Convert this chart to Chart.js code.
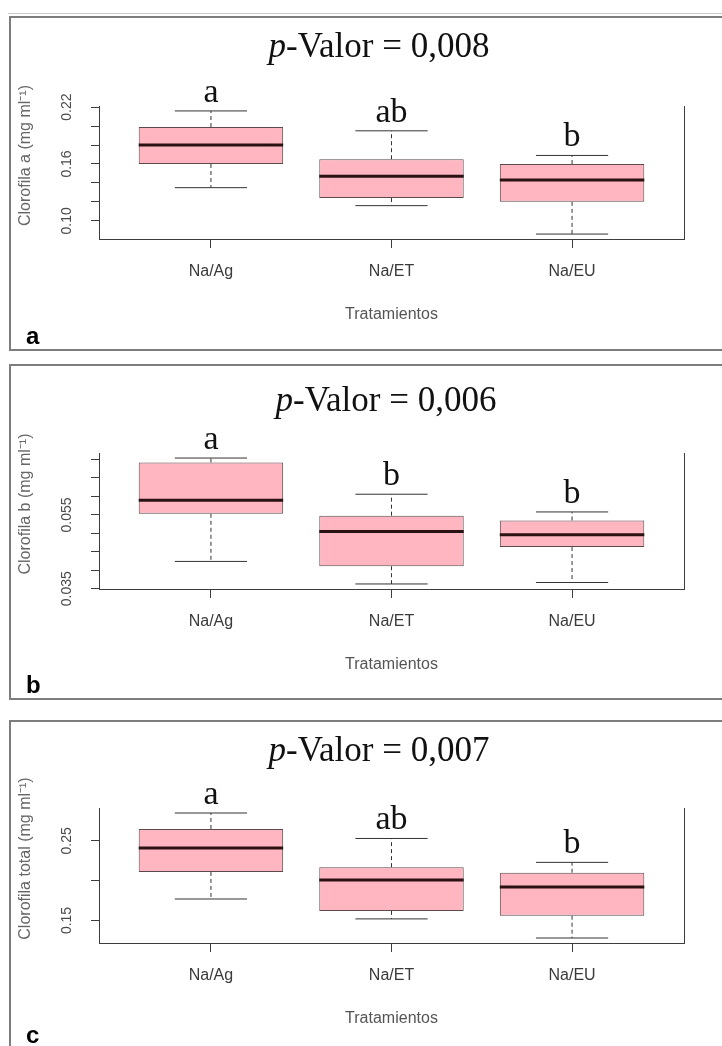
<!DOCTYPE html>
<html>
<head>
<meta charset="utf-8">
<script src="https://cdn.jsdelivr.net/npm/chart.js@4/dist/chart.umd.min.js"></script>
<style>
  body { margin: 0; width: 722px; height: 1046px; background: #fff; position: relative; overflow: hidden; }
  .panel { position: absolute; left: 9px; width: 730px; border: 2px solid #7d7d7d; box-sizing: border-box; }
  canvas { position: absolute; left: 0; }
  .rule { position: absolute; left: 8px; right: 0; top: 13px; height: 1px; background: #c9c9c9; }
</style>
</head>
<body>
<div class="rule"></div>
<div class="panel" style="top:16px;height:335px"></div>
<div class="panel" style="top:364px;height:336px"></div>
<div class="panel" style="top:720px;height:360px"></div>
<canvas id="chartA" width="722" height="334" style="top:16px"></canvas>
<canvas id="chartB" width="722" height="335" style="top:364px"></canvas>
<canvas id="chartC" width="722" height="326" style="top:720px"></canvas>
<script>
const treatments = ["Na/Ag", "Na/ET", "Na/EU"];

// Clorofila a
const chlAMin = [0.135, 0.116, 0.086];
const chlAQ1 = [0.160, 0.124, 0.120];
const chlAMedian = [0.180, 0.147, 0.143];
const chlAQ3 = [0.199, 0.165, 0.160];
const chlAMax = [0.216, 0.195, 0.169];
const chlALetters = ["a", "ab", "b"];
const chlATicks = [0.10, 0.12, 0.14, 0.16, 0.18, 0.20, 0.22];
const chlATickLabels = ["0.10", "0.16", "0.22"];

// Clorofila b
const chlBMin = [0.0424, 0.0363, 0.0367];
const chlBQ1 = [0.0553, 0.0411, 0.0463];
const chlBMedian = [0.0590, 0.0505, 0.0496];
const chlBQ3 = [0.0692, 0.0548, 0.0535];
const chlBMax = [0.0704, 0.0606, 0.0558];
const chlBLetters = ["a", "b", "b"];
const chlBTicks = [0.035, 0.040, 0.045, 0.050, 0.055, 0.060, 0.065, 0.070];
const chlBTickLabels = ["0.035", "0.055"];

// Clorofila total
const chlTMin = [0.177, 0.152, 0.128];
const chlTQ1 = [0.211, 0.162, 0.156];
const chlTMedian = [0.241, 0.201, 0.192];
const chlTQ3 = [0.265, 0.217, 0.210];
const chlTMax = [0.285, 0.253, 0.223];
const chlTLetters = ["a", "ab", "b"];
const chlTTicks = [0.15, 0.20, 0.25];
const chlTTickLabels = ["0.15", "0.25"];

const AXIS = "#3c3c3c";
const TEXT = "#4a4a4a";
const SANS = 16;

function makePanel(p) {
  const canvas = document.getElementById(p.id);
  const H = canvas.height;
  const plotTop = p.plotTop - p.canvasTop;
  const plotBottom = p.plotBottom - p.canvasTop;

  // R style axis range: data range + 4%
  const lo = Math.min(...p.min), hi = Math.max(...p.max);
  const ext = (hi - lo) * 0.04;

  const boxPlugin = {
    id: "box" + p.id,
    afterDatasetsDraw(chart) {
      const { ctx, chartArea } = chart;
      const x = chart.scales.x, y = chart.scales.y;
      ctx.save();
      // right frame line
      ctx.strokeStyle = AXIS;
      ctx.lineWidth = 1;
      ctx.beginPath();
      ctx.moveTo(chartArea.right + 0.5, chartArea.top);
      ctx.lineTo(chartArea.right + 0.5, chartArea.bottom);
      ctx.stroke();

      treatments.forEach((t, i) => {
        const cx = x.getPixelForValue(i + 1);
        const capL = x.getPixelForValue(i + 0.8), capR = x.getPixelForValue(i + 1.2);
        const boxL = x.getPixelForValue(i + 0.6), boxR = x.getPixelForValue(i + 1.4);
        ctx.strokeStyle = "#333";
        ctx.lineWidth = 1;
        ctx.setLineDash([4, 3]);
        ctx.beginPath();
        ctx.moveTo(cx, y.getPixelForValue(p.q3[i]));
        ctx.lineTo(cx, y.getPixelForValue(p.max[i]));
        ctx.moveTo(cx, y.getPixelForValue(p.q1[i]));
        ctx.lineTo(cx, y.getPixelForValue(p.min[i]));
        ctx.stroke();
        ctx.setLineDash([]);
        ctx.beginPath();
        ctx.moveTo(capL, y.getPixelForValue(p.max[i]));
        ctx.lineTo(capR, y.getPixelForValue(p.max[i]));
        ctx.moveTo(capL, y.getPixelForValue(p.min[i]));
        ctx.lineTo(capR, y.getPixelForValue(p.min[i]));
        ctx.stroke();
        // median
        ctx.strokeStyle = "#2a1212";
        ctx.lineWidth = 3;
        ctx.beginPath();
        ctx.moveTo(boxL, y.getPixelForValue(p.median[i]));
        ctx.lineTo(boxR, y.getPixelForValue(p.median[i]));
        ctx.stroke();
        // significance letters
        ctx.fillStyle = "#111";
        ctx.font = '34px "Liberation Serif"';
        ctx.textAlign = "center";
        ctx.textBaseline = "alphabetic";
        ctx.fillText(p.letters[i], cx, y.getPixelForValue(p.max[i]) - 9);
      });

      // rotated y tick labels
      ctx.fillStyle = TEXT;
      ctx.font = '14px "Liberation Sans"';
      ctx.textAlign = "center";
      ctx.textBaseline = "middle";
      p.tickLabels.forEach(lab => {
        ctx.save();
        ctx.translate(67, y.getPixelForValue(parseFloat(lab)));
        ctx.rotate(-Math.PI / 2);
        ctx.fillText(lab, 0, 0);
        ctx.restore();
      });

      // y title
      ctx.save();
      ctx.fillStyle = "#666";
      ctx.font = SANS + 'px "Liberation Sans"';
      ctx.translate(26, (chartArea.top + chartArea.bottom) / 2 - 17);
      ctx.rotate(-Math.PI / 2);
      ctx.fillText(p.yTitle, 0, 0);
      ctx.restore();

      // main title with italic p
      ctx.fillStyle = "#111";
      ctx.textAlign = "left";
      ctx.textBaseline = "alphabetic";
      ctx.font = 'italic 35px "Liberation Serif"';
      const wP = ctx.measureText("p").width;
      ctx.font = '35px "Liberation Serif"';
      const rest = "-Valor = " + p.pValue;
      const wR = ctx.measureText(rest).width;
      const tx = p.titleX - (wP + wR) / 2;
      const ty = p.titleBase - p.canvasTop;
      ctx.font = 'italic 35px "Liberation Serif"';
      ctx.fillText("p", tx, ty);
      ctx.font = '35px "Liberation Serif"';
      ctx.fillText(rest, tx + wP, ty);

      // panel tag
      ctx.fillStyle = "#000";
      ctx.font = 'bold 24px "Liberation Sans"';
      ctx.fillText(p.tag, 26, p.tagBase - p.canvasTop);
      ctx.restore();
    }
  };

  new Chart(canvas, {
    type: "bar",
    data: {
      datasets: [{
        data: treatments.map((t, i) => ({ x: i + 1, y: [p.q1[i], p.q3[i]] })),
        backgroundColor: "#ffb6c1",
        borderColor: "#5a4a4c",
        borderWidth: 1,
        borderSkipped: false,
        categoryPercentage: 0.8,
        barPercentage: 1.0
      }]
    },
    options: {
      responsive: false,
      animation: false,
      devicePixelRatio: 1,
      layout: { padding: { top: plotTop, left: 0, right: 722 - 684, bottom: 0 } },
      plugins: { legend: { display: false }, tooltip: { enabled: false } },
      scales: {
        x: {
          type: "linear",
          min: 0.38,
          max: 3.62,
          offset: false,
          afterBuildTicks: s => { s.ticks = treatments.map((t, i) => ({ value: i + 1 })); },
          afterFit: s => { s.height = H - plotBottom; },
          ticks: {
            callback: v => treatments[v - 1],
            color: "#3a3a3a",
            font: { family: "Liberation Sans", size: SANS },
            padding: 14,
            maxRotation: 0
          },
          grid: { display: true, offset: false, drawOnChartArea: false, drawTicks: true, tickLength: 9, color: AXIS },
          border: { display: true, color: AXIS, width: 1 },
          title: {
            display: true,
            text: "Tratamientos",
            color: "#555",
            font: { family: "Liberation Sans", size: SANS },
            padding: { top: 0, bottom: H - plotBottom - 76 - SANS * 0.6 }
          }
        },
        y: {
          min: lo - ext,
          max: hi + ext,
          afterBuildTicks: s => { s.ticks = p.ticks.map(v => ({ value: v })); },
          afterFit: s => { s.width = 99; },
          ticks: { display: false },
          grid: { display: true, drawOnChartArea: false, drawTicks: true, tickLength: 8, color: AXIS },
          border: { display: true, color: AXIS, width: 1 }
        }
      }
    },
    plugins: [boxPlugin]
  });
}

makePanel({
  id: "chartA", canvasTop: 16, plotTop: 106, plotBottom: 239,
  min: chlAMin, q1: chlAQ1, median: chlAMedian, q3: chlAQ3, max: chlAMax,
  letters: chlALetters, ticks: chlATicks, tickLabels: chlATickLabels,
  yTitle: "Clorofila a (mg ml\u207B\u00B9)", pValue: "0,008",
  titleX: 379, titleBase: 57, tag: "a", tagBase: 344
});
makePanel({
  id: "chartB", canvasTop: 364, plotTop: 453, plotBottom: 589,
  min: chlBMin, q1: chlBQ1, median: chlBMedian, q3: chlBQ3, max: chlBMax,
  letters: chlBLetters, ticks: chlBTicks, tickLabels: chlBTickLabels,
  yTitle: "Clorofila b (mg ml\u207B\u00B9)", pValue: "0,006",
  titleX: 386, titleBase: 411, tag: "b", tagBase: 693
});
makePanel({
  id: "chartC", canvasTop: 720, plotTop: 808, plotBottom: 943,
  min: chlTMin, q1: chlTQ1, median: chlTMedian, q3: chlTQ3, max: chlTMax,
  letters: chlTLetters, ticks: chlTTicks, tickLabels: chlTTickLabels,
  yTitle: "Clorofila total (mg ml\u207B\u00B9)", pValue: "0,007",
  titleX: 379, titleBase: 761, tag: "c", tagBase: 1043
});
</script>
</body>
</html>
